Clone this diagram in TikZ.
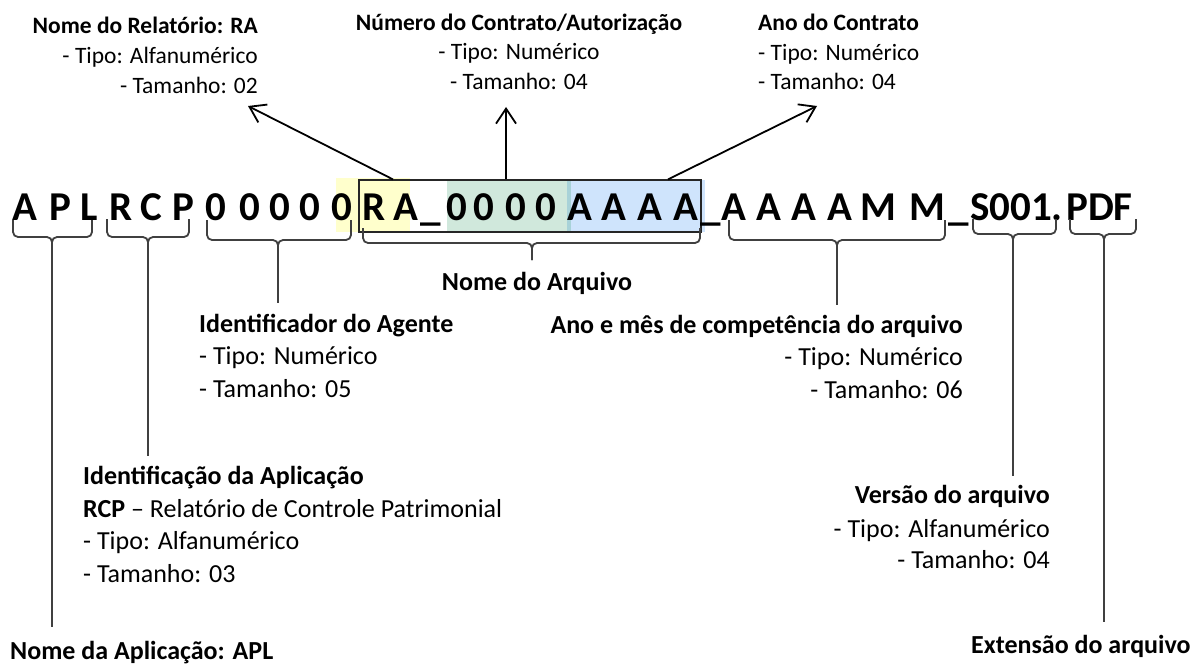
\documentclass[tikz,border=0pt]{standalone}
\usepackage{fontspec}
\setmainfont{Carlito}
\usetikzlibrary{arrows.meta}
\definecolor{hlyellow}{RGB}{255,255,204}
\definecolor{hlgreen}{RGB}{208,232,220}
\definecolor{hlblue}{RGB}{207,228,252}
\definecolor{hlteal}{RGB}{168,210,216}
\definecolor{brc}{RGB}{64,64,64}
% #1 x-left, #2 x-right, #3 x-centre, #4 y-top, #5 y-horizontal, #6 y-tip, #7 name of tip
\newcommand\mybrace[7]{%
  \draw[bracestyle] (#1,#4) -- (#1,#5) -- (#3,#5) -- (#3,#6) coordinate (#7);
  \draw[bracestyle] (#2,#4) -- (#2,#5) -- (#3,#5) -- (#3,#6);
}
\begin{document}
\begin{tikzpicture}[x=1pt,y=-1pt,
  big/.style={font=\fontsize{41}{41}\selectfont\bfseries, inner sep=0pt, anchor=base},
  top/.style={font=\fontsize{23.5}{28}\selectfont, inner sep=0pt},
  topb/.style={font=\fontsize{23.5}{28}\selectfont\bfseries, inner sep=0pt},
  low/.style={font=\fontsize{26}{32}\selectfont, inner sep=0pt},
  lowb/.style={font=\fontsize{26}{32}\selectfont\bfseries, inner sep=0pt},
  bracestyle/.style={draw=brc, line width=1.8pt, rounded corners=5pt},
  conn/.style={draw=brc, line width=1.8pt},
  arr/.style={draw=black, line width=1.8pt, -{Straight Barb[length=15pt,width=20pt]}}]
\useasboundingbox (0,0) rectangle (1200,666);
\fill[white] (0,0) rectangle (1200,666);

% highlights
\fill[hlyellow] (336,178) rectangle (410,232);
\fill[hlgreen] (447,180) rectangle (571,232);
\fill[hlblue] (567,180) rectangle (705,232);
\fill[hlteal] (567,180) rectangle (571,232);
\node[draw=black!85, line width=1.2pt, minimum width=342pt, minimum height=52pt, inner sep=0pt] (box) at (530,206) {};

% file name characters
\foreach \c/\x [count=\i] in {A/25,P/60,L/89,R/121,C/151,P/183,0/216,0/250,0/280,0/310,0/342,R/374,A/406,\_/431,0/457,0/484,0/516,0/546,A/580,A/614,A/650,A/686,\_/711,A/734,A/769,A/804,A/840,M/878,M/927,\_/959}
  \node[big] (ch\i) at (\x,220) {\c};
\node[big, anchor=base west] (sver) at (970,220) {S001.};
\node[big, anchor=base west] (pdf) at (1066,220) {PDF};

% braces
\mybrace{13}{92}{52}{220}{237}{249}{tAPL}
\mybrace{107}{189}{148}{219}{237}{249}{tRCP}
\mybrace{207}{351}{278}{220}{240}{252}{tAG}
\mybrace{363}{700}{532}{228}{243}{260}{tARQ}
\mybrace{729}{945}{837}{220}{240}{252}{tMES}
\mybrace{973}{1056}{1013}{219}{234}{246}{tVER}
\mybrace{1070}{1136}{1104}{219}{234}{246}{tEXT}

% connector ends
\coordinate (eAPL) at (52,627);
\coordinate (eRCP) at (148,456);
\coordinate (eAG) at (278,303);
\coordinate (eMES) at (837,305);
\coordinate (eVER) at (1013,476);
\coordinate (eEXT) at (1104,622);
\draw[conn] (tAPL) -- (eAPL);
\draw[conn] (tRCP) -- (eRCP);
\draw[conn] (tAG) -- (eAG);
\draw[conn] (tMES) -- (eMES);
\draw[conn] (tVER) -- (eVER);
\draw[conn] (tEXT) -- (eEXT);

% top arrows
\coordinate (aRA) at (248,106);
\coordinate (aNUM) at (506,107);
\coordinate (aANO) at (817,106);
\draw[arr] ([xshift=-137pt]box.north) -- (aRA);
\draw[arr] ([xshift=-24pt]box.north) -- (aNUM);
\draw[arr] ([xshift=138pt]box.north) -- (aANO);

% top labels
\node[topb, anchor=base east] (ra1) at (258,34) {Nome do Relatório: RA};
\node[top, anchor=base east] (ra2) at (258,64) {- Tipo: Alfanumérico};
\node[top, anchor=base east] (ra3) at (258,94) {- Tamanho: 02};
\node[topb, anchor=base] (nu1) at (519,31) {Número do Contrato/Autorização};
\node[top, anchor=base] (nu2) at (519,60) {- Tipo: Numérico};
\node[top, anchor=base] (nu3) at (519,90) {- Tamanho: 04};
\node[topb, anchor=base west] (an1) at (758,31) {Ano do Contrato};
\node[top, anchor=base west] (an2) at (758,61) {- Tipo: Numérico};
\node[top, anchor=base west] (an3) at (758,90) {- Tamanho: 04};

% lower labels
\node[lowb, anchor=base] (arq) at (537,290) {Nome do Arquivo};
\node[lowb, anchor=base west] (ag1) at (199,332) {Identificador do Agente};
\node[low, anchor=base west] (ag2) at (199,364) {- Tipo: Numérico};
\node[low, anchor=base west] (ag3) at (199,397) {- Tamanho: 05};
\node[lowb, anchor=base east] (me1) at (963,333) {Ano e mês de competência do arquivo};
\node[low, anchor=base east] (me2) at (963,365) {- Tipo: Numérico};
\node[low, anchor=base east] (me3) at (963,398) {- Tamanho: 06};
\node[lowb, anchor=base west] (ap1) at (83,484) {Identificação da Aplicação};
\node[low, anchor=base west] (ap2) at (83,517) {\textbf{RCP} – Relatório de Controle Patrimonial};
\node[low, anchor=base west] (ap3) at (83,549) {- Tipo: Alfanumérico};
\node[low, anchor=base west] (ap4) at (83,582) {- Tamanho: 03};
\node[lowb, anchor=base east] (ve1) at (1050,503) {Versão do arquivo};
\node[low, anchor=base east] (ve2) at (1050,537) {- Tipo: Alfanumérico};
\node[low, anchor=base east] (ve3) at (1050,568) {- Tamanho: 04};
\node[lowb, anchor=base west] (apl) at (10,659) {Nome da Aplicação: APL};
\node[lowb, anchor=base west] (ext) at (971,653) {Extensão do arquivo};
\end{tikzpicture}
\end{document}
